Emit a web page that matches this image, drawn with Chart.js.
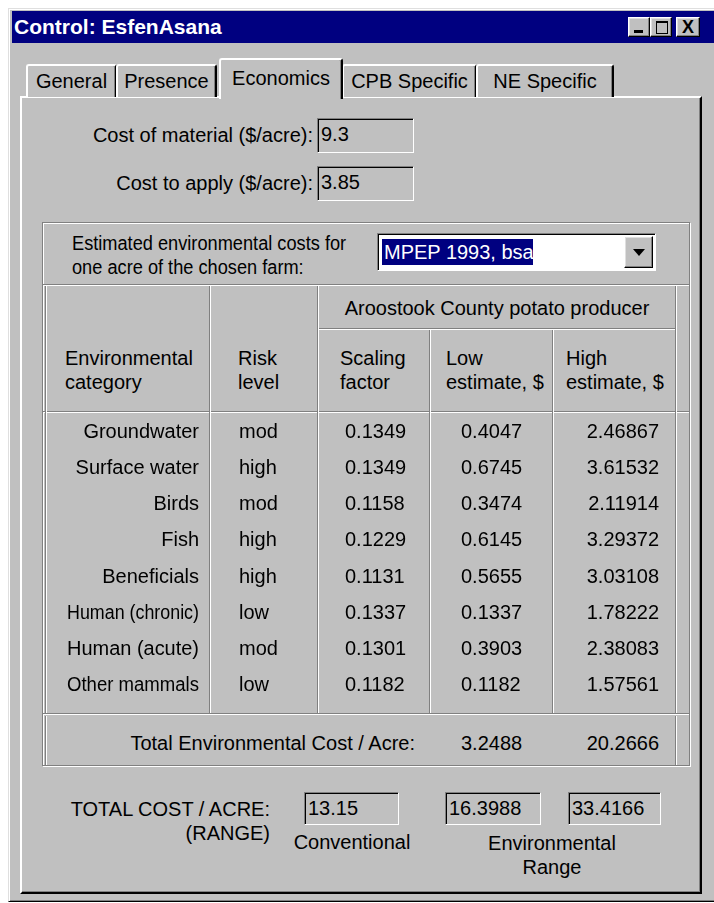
<!DOCTYPE html>
<html><head><meta charset="utf-8">
<script src="https://cdn.jsdelivr.net/npm/chart.js@4/dist/chart.umd.min.js"></script>
<style>
body{margin:0;background:#fff;width:714px;height:903px;overflow:hidden;position:relative;font-family:"Liberation Sans",Arial,sans-serif;font-size:20px;color:#000;}
.a{position:absolute;white-space:nowrap;line-height:22px;}
.win{position:absolute;left:8px;top:8px;width:720px;height:892px;background:#c0c0c0;border-left:1px solid #dfdfdf;border-top:1px solid #dfdfdf;border-bottom:1px solid #000;box-shadow:inset 1px 1px #fff, inset 0 -1px #808080;}
.title{position:absolute;left:12px;top:11px;width:702px;height:32px;background:#000080;}
.title span{position:absolute;left:2px;top:5px;color:#fff;font-weight:bold;font-size:21px;line-height:22px;}
.btn{position:absolute;background:#c0c0c0;border:1px solid;border-color:#fff #000 #000 #fff;box-shadow:inset -1px -1px #808080, inset 1px 1px #dfdfdf;box-sizing:border-box;}
.tab{position:absolute;background:#c0c0c0;border-left:2px solid #fff;border-top:2px solid #fff;border-right:2px solid #000;box-shadow:inset -1px 0 #808080;border-radius:3px 3px 0 0;box-sizing:border-box;text-align:center;line-height:30px;}
.panel{position:absolute;left:20px;top:96px;width:682px;height:798px;box-sizing:border-box;border-left:2px solid #fff;border-top:2px solid #fff;border-right:2px solid #000;border-bottom:2px solid #000;box-shadow:inset -1px -1px #808080;}
.tb{position:absolute;box-sizing:border-box;border:1px solid;border-color:#808080 #fff #fff #808080;box-shadow:inset 1px 1px #000;background:#c0c0c0;padding-left:3px;line-height:30px;}
.hl{position:absolute;height:1px;background:#808080;border-bottom:1px solid #fff;}
.vl{position:absolute;width:1px;background:#808080;border-right:1px solid #fff;}
.r{text-align:right;}
.c{text-align:center;}
</style></head><body>
<div class="win"></div>
<div class="title"><span>Control: EsfenAsana</span></div>
<div class="btn" style="left:628px;top:17px;width:22px;height:20px;"><div style="position:absolute;left:5px;top:12px;width:9px;height:3px;background:#000"></div></div>
<div class="btn" style="left:650px;top:17px;width:22px;height:20px;"><div style="position:absolute;left:5px;top:3px;width:10px;height:10px;border:1px solid #000;border-top-width:2px"></div></div>
<div class="btn" style="left:676px;top:17px;width:24px;height:20px;font-weight:bold;font-size:18px;text-align:center;line-height:18px;">X</div>

<div class="panel"></div>
<div class="tab" style="left:26px;top:64px;width:91px;height:33px;">General</div>
<div class="tab" style="left:116px;top:64px;width:101px;height:33px;">Presence</div>
<div class="tab" style="left:342px;top:64px;width:135px;height:33px;">CPB Specific</div>
<div class="tab" style="left:476px;top:64px;width:138px;height:33px;">NE Specific</div>
<div class="tab" style="left:219px;top:58px;width:124px;height:41px;line-height:36px;border-bottom:none;">Economics</div>

<div class="a r" style="right:401px;top:124px;">Cost of material ($/acre):</div>
<div class="tb" style="left:317px;top:118px;width:97px;height:35px;" id="tbMat"></div>
<div class="a r" style="right:401px;top:172px;">Cost to apply ($/acre):</div>
<div class="tb" style="left:317px;top:166px;width:97px;height:35px;" id="tbApp"></div>

<!-- group box -->
<div style="position:absolute;left:42px;top:222px;width:648px;height:544px;box-sizing:border-box;border:1px solid #808080;box-shadow:1px 1px #fff, inset 1px 1px #fff;"></div>
<div class="a" style="left:72px;top:231px;line-height:24px;transform:scaleX(0.91);transform-origin:0 0;">Estimated environmental costs for<br>one acre of the chosen farm:</div>
<div style="position:absolute;left:377px;top:233px;width:279px;height:38px;box-sizing:border-box;border:1px solid;border-color:#808080 #fff #fff #808080;box-shadow:inset 1px 1px #000;background:#fff;"></div>
<div class="a" style="left:382px;top:239px;width:151px;height:26px;background:#000080;color:#fff;line-height:26px;padding-left:2px;box-sizing:border-box;" id="combo"></div>
<div class="btn" style="left:624px;top:236px;width:29px;height:32px;"><div style="position:absolute;left:8px;top:12px;width:0;height:0;border-left:6px solid transparent;border-right:6px solid transparent;border-top:7px solid #000"></div></div>

<div class="hl" style="left:43px;top:284px;width:646px;"></div>
<div class="hl" style="left:318px;top:328px;width:358px;"></div>
<div class="hl" style="left:43px;top:411px;width:646px;"></div>
<div class="hl" style="left:43px;top:713px;width:646px;"></div>
<div class="vl" style="left:45px;top:286px;height:427px;"></div>
<div class="vl" style="left:209px;top:286px;height:427px;"></div>
<div class="vl" style="left:317px;top:286px;height:427px;"></div>
<div class="vl" style="left:429px;top:330px;height:383px;"></div>
<div class="vl" style="left:552px;top:330px;height:383px;"></div>
<div class="vl" style="left:675px;top:286px;height:427px;"></div>
<div class="vl" style="left:45px;top:716px;height:49px;"></div>
<div class="vl" style="left:675px;top:716px;height:49px;"></div>

<div class="a c" style="left:318px;width:358px;top:297px;" id="hGroup"></div>
<div class="a" style="left:65px;top:346px;line-height:24px;" id="h0"></div>
<div class="a" style="left:238px;top:346px;line-height:24px;" id="h1"></div>
<div class="a" style="left:340px;top:346px;line-height:24px;" id="h2"></div>
<div class="a" style="left:446px;top:346px;line-height:24px;" id="h3"></div>
<div class="a" style="left:566px;top:346px;line-height:24px;" id="h4"></div>

<div style="position:absolute;left:47px;top:414px;width:628px;height:298px;"><canvas id="c" width="628" height="298"></canvas></div>

<div class="a r" style="right:299px;top:732px;" id="totLabel"></div>
<div class="a" style="left:461px;top:732px;" id="totLow"></div>
<div class="a r" style="right:55px;top:732px;" id="totHigh"></div>

<div class="a r" style="right:444px;top:797px;line-height:24px;">TOTAL COST / ACRE:<br>(RANGE)</div>
<div class="tb" style="left:304px;top:792px;width:95px;height:33px;" id="tbConv"></div>
<div class="a c" style="left:282px;width:140px;top:831px;">Conventional</div>
<div class="tb" style="left:445px;top:792px;width:96px;height:33px;" id="tbLo"></div>
<div class="tb" style="left:568px;top:792px;width:93px;height:33px;" id="tbHi"></div>
<div class="a c" style="left:470px;width:164px;top:831px;line-height:24px;">Environmental<br>Range</div>

<script>
// ---- data ----
const COST_MATERIAL = "9.3";
const COST_APPLY = "3.85";
const SOURCE = "MPEP 1993, bsa";
const GROUP_TITLE = "Aroostook County potato producer";
const HEADERS = ["Environmental<br>category", "Risk<br>level", "Scaling<br>factor", "Low<br>estimate, $", "High<br>estimate, $"];
const CATEGORIES = ["Groundwater", "Surface water", "Birds", "Fish", "Beneficials", "Human (chronic)", "Human (acute)", "Other mammals"];
const RISK = ["mod", "high", "mod", "high", "high", "low", "mod", "low"];
const SCALING = ["0.1349", "0.1349", "0.1158", "0.1229", "0.1131", "0.1337", "0.1301", "0.1182"];
const LOW_EST = ["0.4047", "0.6745", "0.3474", "0.6145", "0.5655", "0.1337", "0.3903", "0.1182"];
const HIGH_EST = ["2.46867", "3.61532", "2.11914", "3.29372", "3.03108", "1.78222", "2.38083", "1.57561"];
const TOTAL_LABEL = "Total Environmental Cost / Acre:";
const TOTAL_LOW = "3.2488";
const TOTAL_HIGH = "20.2666";
const TOTAL_CONVENTIONAL = "13.15";
const TOTAL_RANGE_LOW = "16.3988";
const TOTAL_RANGE_HIGH = "33.4166";

// ---- fill html text ----
const set = (id, t) => document.getElementById(id).innerHTML = t;
set("tbMat", COST_MATERIAL); set("tbApp", COST_APPLY); set("combo", SOURCE);
set("hGroup", GROUP_TITLE);
HEADERS.forEach((h, i) => set("h" + i, h));
set("totLabel", TOTAL_LABEL); set("totLow", TOTAL_LOW); set("totHigh", TOTAL_HIGH);
set("tbConv", TOTAL_CONVENTIONAL); set("tbLo", TOTAL_RANGE_LOW); set("tbHi", TOTAL_RANGE_HIGH);

// ---- layout of table columns (canvas px): [x, align, maxWidth] ----
const COLS = [[152, "right", 132], [192, "left", 90], [298, "left", 100], [414, "left", 100], [612, "right", 110]];

const cellText = {
  id: "cellText",
  afterDatasetsDraw(chart) {
    const ctx = chart.ctx, y = chart.scales.y;
    ctx.save();
    ctx.font = '20px "Liberation Sans", Arial, sans-serif';
    ctx.fillStyle = "#000";
    ctx.textBaseline = "middle";
    CATEGORIES.forEach((cat, i) => {
      const py = y.getPixelForValue(i);
      const texts = [cat, RISK[i], ...chart.data.datasets.map(d => d.text[i])];
      texts.forEach((t, j) => {
        ctx.textAlign = COLS[j][1];
        ctx.fillText(t, COLS[j][0], py, COLS[j][2]);
      });
    });
    ctx.restore();
  }
};

new Chart(document.getElementById("c"), {
  type: "bar",
  data: {
    labels: CATEGORIES,
    datasets: [
      { label: "Scaling factor", data: SCALING.map(Number), text: SCALING, backgroundColor: "rgba(0,0,0,0)" },
      { label: "Low estimate, $", data: LOW_EST.map(Number), text: LOW_EST, backgroundColor: "rgba(0,0,0,0)" },
      { label: "High estimate, $", data: HIGH_EST.map(Number), text: HIGH_EST, backgroundColor: "rgba(0,0,0,0)" }
    ]
  },
  options: {
    indexAxis: "y",
    responsive: false,
    animation: false,
    events: [],
    layout: { padding: { top: 0, bottom: 8, left: 0, right: 0 } },
    plugins: { legend: { display: false }, tooltip: { enabled: false } },
    scales: {
      x: { display: false },
      y: { display: false, offset: true }
    }
  },
  plugins: [cellText]
});
</script>
</body></html>
